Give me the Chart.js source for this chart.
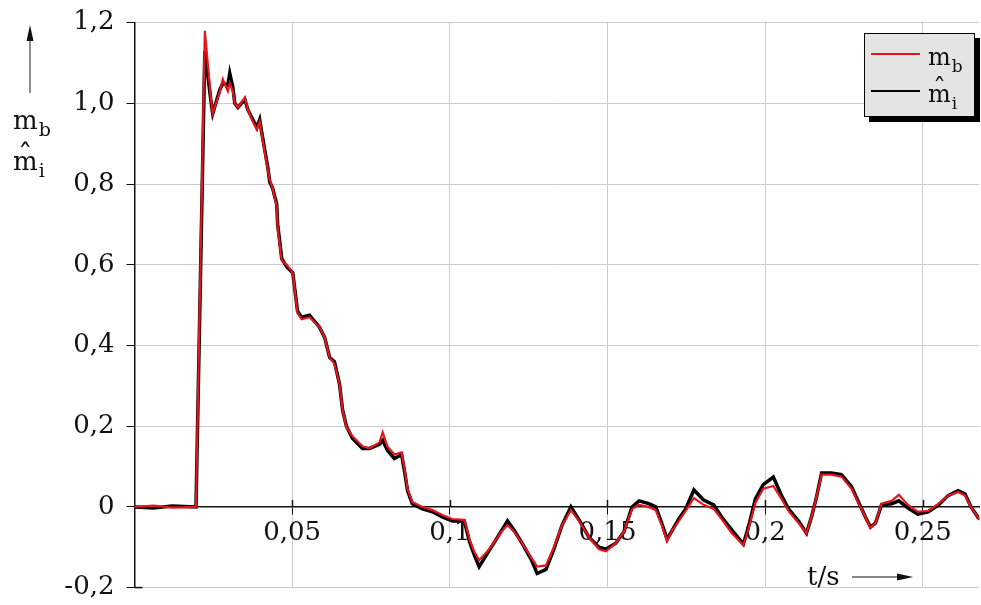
<!DOCTYPE html>
<html>
<head>
<meta charset="utf-8">
<script src="https://cdn.jsdelivr.net/npm/chart.js@4/dist/chart.umd.min.js"></script>
<style>
  html, body { margin: 0; padding: 0; background: #ffffff; }
  canvas { display: block; }
</style>
</head>
<body>
<canvas id="chart" width="981" height="605"></canvas>
<script>
// Time base in seconds
const time = [
  0, 0.006, 0.012, 0.0195, 0.0223, 0.0245, 0.0248, 0.0271, 0.028, 0.0296,
  0.0302, 0.0312, 0.0318, 0.0328, 0.035, 0.0359, 0.0372, 0.0388, 0.0397, 0.0403,
  0.0413, 0.0423, 0.0429, 0.0438, 0.0451, 0.0454, 0.0467, 0.0483, 0.0502, 0.0517,
  0.053, 0.0555, 0.0587, 0.0603, 0.0619, 0.0634, 0.065, 0.066, 0.0672, 0.0691,
  0.0723, 0.0745, 0.0777, 0.0787, 0.0802, 0.0824, 0.0847, 0.0856, 0.0866, 0.0881,
  0.0913, 0.0945, 0.0976, 0.1008, 0.1046, 0.1062, 0.1078, 0.1093, 0.1119, 0.1141,
  0.1163, 0.1183, 0.1204, 0.1229, 0.1258, 0.1277, 0.1305, 0.133, 0.1356, 0.1384,
  0.141, 0.1441, 0.1473, 0.1495, 0.1526, 0.1552, 0.1578, 0.16, 0.1631, 0.1653,
  0.1672, 0.1689, 0.1704, 0.1726, 0.1748, 0.1774, 0.1805, 0.1837, 0.1862, 0.1894,
  0.1931, 0.1947, 0.1969, 0.1994, 0.2026, 0.2052, 0.2074, 0.2106, 0.2131, 0.2147,
  0.2163, 0.2179, 0.221, 0.2242, 0.2274, 0.2296, 0.2318, 0.2334, 0.235, 0.2369,
  0.2401, 0.2424, 0.2453, 0.2484, 0.2517, 0.255, 0.258, 0.2612, 0.2634, 0.2653,
  0.2676, 0.27
];

// Measured torque m_b
const mb = [
  0, 0.003, -0.002, 0, 1.18, 0.99, 0.975, 1.03, 1.06, 1.03,
  1.05, 1.03, 1.0, 0.99, 1.015, 0.985, 0.96, 0.935, 0.955, 0.925,
  0.88, 0.835, 0.81, 0.79, 0.745, 0.69, 0.61, 0.60, 0.58, 0.48,
  0.465, 0.47, 0.445, 0.42, 0.37, 0.355, 0.305, 0.24, 0.198, 0.175,
  0.15, 0.145, 0.16, 0.185, 0.15, 0.13, 0.135, 0.095, 0.045, 0.012,
  0.0, -0.008, -0.02, -0.03, -0.032, -0.08, -0.112, -0.132, -0.11, -0.087,
  -0.062, -0.045, -0.062, -0.09, -0.125, -0.148, -0.145, -0.1, -0.045, -0.008,
  -0.035, -0.075, -0.105, -0.11, -0.09, -0.062, -0.005, 0.005, 0.0, -0.008,
  -0.045, -0.085, -0.06, -0.035, -0.01, 0.022, 0.005, -0.005, -0.03, -0.065,
  -0.095, -0.055, 0.01, 0.045, 0.052, 0.02, -0.01, -0.04, -0.065, -0.025,
  0.025, 0.08, 0.08, 0.075, 0.045, 0.01, -0.025, -0.052, -0.04, 0.008,
  0.015, 0.03, 0.005, -0.012, -0.01, 0.008, 0.028, 0.037, 0.028, 0.0,
  -0.027, -0.04
];

// Estimated torque m^_i
const mi = [
  0, -0.003, 0.002, 0, 1.13, 0.99, 0.975, 1.035, 1.05, 1.045,
  1.075, 1.04, 1.0, 0.99, 1.01, 0.985, 0.965, 0.94, 0.96, 0.93,
  0.885, 0.84, 0.805, 0.79, 0.75, 0.7, 0.615, 0.595, 0.58, 0.485,
  0.47, 0.475, 0.445, 0.42, 0.37, 0.36, 0.305, 0.24, 0.2, 0.17,
  0.145, 0.145, 0.155, 0.165, 0.14, 0.12, 0.13, 0.09, 0.04, 0.008,
  -0.005, -0.012, -0.025, -0.035, -0.035, -0.085, -0.12, -0.148, -0.115, -0.088,
  -0.06, -0.035, -0.058, -0.09, -0.13, -0.165, -0.155, -0.105, -0.045, 0.0,
  -0.032, -0.075, -0.1, -0.105, -0.09, -0.062, 0.0, 0.015, 0.008, 0.0,
  -0.04, -0.08, -0.06, -0.03, -0.005, 0.042, 0.017, 0.005, -0.025, -0.057,
  -0.092, -0.05, 0.02, 0.055, 0.074, 0.028, -0.005, -0.035, -0.065, -0.025,
  0.025, 0.084, 0.084, 0.08, 0.05, 0.012, -0.025, -0.05, -0.04, 0.005,
  0.008, 0.015, -0.003, -0.018, -0.012, 0.005, 0.028, 0.04, 0.032, 0.0,
  -0.027, -0.04
];

const xTicks = [0.05, 0.1, 0.15, 0.2, 0.25];
const yTicks = [-0.2, 0, 0.2, 0.4, 0.6, 0.8, 1.0, 1.2];

// Symbol parts: base letter, subscript, circumflex
const symbols = [
  { base: 'm', sub: 'b', hat: false },
  { base: 'm', sub: 'i', hat: true }
];

const SERIF = '"DejaVu Serif", "Liberation Serif", serif';
const INK = '#111111';

// Wanted plot frame in canvas pixels
const FRAME = { left: 134.5, top: 22.7, right: 981, bottom: 587.6 };

function fmtNum(v) {
  const r = Math.round(v * 100) / 100;
  if (r === 0) return '0';
  let s = String(r);
  if (Math.abs(r) >= 0.1 && Math.abs(r * 10 - Math.round(r * 10)) < 1e-9) s = r.toFixed(1);
  return s.replace('.', ',');
}

// Draws "m" with optional circumflex and a subscript
function drawSymbol(ctx, sym, x, baseline, size) {
  ctx.save();
  ctx.fillStyle = INK;
  ctx.textAlign = 'left';
  ctx.textBaseline = 'alphabetic';
  ctx.font = size + 'px ' + SERIF;
  ctx.fillText(sym.base, x, baseline);
  const w = ctx.measureText(sym.base).width;
  if (sym.hat) {
    ctx.textAlign = 'center';
    ctx.font = Math.round(size * 1.1) + 'px ' + SERIF;
    ctx.fillText('\u02C6', x + w / 2, baseline - size * 0.2);
    ctx.font = size + 'px ' + SERIF;
    ctx.textAlign = 'left';
  }
  ctx.font = Math.round(size * 0.72) + 'px ' + SERIF;
  ctx.fillText(sym.sub, x + w + 1, baseline + size * 0.28);
  ctx.restore();
}

function arrowHead(ctx, tipX, tipY, dx, dy, len, half) {
  const px = -dy, py = dx;
  ctx.beginPath();
  ctx.moveTo(tipX, tipY);
  ctx.lineTo(tipX - dx * len + px * half, tipY - dy * len + py * half);
  ctx.lineTo(tipX - dx * len - px * half, tipY - dy * len - py * half);
  ctx.closePath();
  ctx.fill();
}

const decorations = {
  id: 'decorations',
  afterDraw(chart) {
    const ctx = chart.ctx;
    const xs = chart.scales.x, ys = chart.scales.y;
    const y0 = ys.getPixelForValue(0);

    // upper halves of the x tick marks crossing the zero line
    ctx.save();
    ctx.strokeStyle = INK;
    ctx.lineWidth = 1.5;
    xTicks.forEach(v => {
      const px = Math.round(xs.getPixelForValue(v)) + 0.5;
      ctx.beginPath();
      ctx.moveTo(px, y0 - 7);
      ctx.lineTo(px, y0);
      ctx.stroke();
    });
    // small foot at the bottom of the y axis
    const yb = ys.getPixelForValue(-0.2);
    ctx.beginPath();
    ctx.moveTo(xs.left, yb);
    ctx.lineTo(xs.left + 8, yb);
    ctx.stroke();
    ctx.restore();

    // y axis title with arrow
    ctx.save();
    ctx.strokeStyle = '#444444';
    ctx.fillStyle = INK;
    ctx.lineWidth = 1.2;
    ctx.beginPath();
    ctx.moveTo(30, 93);
    ctx.lineTo(30, 38);
    ctx.stroke();
    arrowHead(ctx, 30, 25, 0, -1, 16, 3.5);
    ctx.restore();
    drawSymbol(ctx, symbols[0], 13, 129, 26);
    drawSymbol(ctx, symbols[1], 13, 170, 26);

    // x axis title with arrow
    ctx.save();
    ctx.fillStyle = INK;
    ctx.strokeStyle = INK;
    ctx.font = '26px ' + SERIF;
    ctx.textBaseline = 'alphabetic';
    ctx.fillText('t/s', 807, 585);
    ctx.lineWidth = 1.2;
    ctx.beginPath();
    ctx.moveTo(852, 577);
    ctx.lineTo(900, 577);
    ctx.stroke();
    arrowHead(ctx, 913, 577, 1, 0, 16, 3.5);
    ctx.restore();

    // legend box with drop shadow
    const bx = 864, by = 33, bw = 111, bh = 84;
    ctx.save();
    ctx.fillStyle = '#000000';
    ctx.fillRect(bx + 5, by + 5, bw, bh);
    ctx.fillStyle = '#e4e4e4';
    ctx.fillRect(bx, by, bw, bh);
    ctx.strokeStyle = '#000000';
    ctx.lineWidth = 1;
    ctx.strokeRect(bx + 0.5, by + 0.5, bw - 1, bh - 1);
    const rows = [54, 91];
    chart.data.datasets.forEach((ds, i) => {
      ctx.strokeStyle = ds.borderColor;
      ctx.lineWidth = 2;
      ctx.beginPath();
      ctx.moveTo(871, rows[i]);
      ctx.lineTo(920, rows[i]);
      ctx.stroke();
    });
    ctx.restore();
    drawSymbol(ctx, symbols[0], 928, 65, 24);
    drawSymbol(ctx, symbols[1], 928, 102, 24);
  }
};

const chart = new Chart(document.getElementById('chart'), {
  type: 'line',
  data: {
    datasets: [
      {
        label: 'mb',
        data: time.map((t, i) => ({ x: t, y: mb[i] })),
        borderColor: '#e8141b',
        borderWidth: 2.2,
        pointRadius: 0,
        tension: 0
      },
      {
        label: 'm\u0302i',
        data: time.map((t, i) => ({ x: t, y: mi[i] })),
        borderColor: '#000000',
        borderWidth: 3.5,
        pointRadius: 0,
        tension: 0
      }
    ]
  },
  options: {
    responsive: false,
    animation: false,
    devicePixelRatio: 1,
    layout: { padding: { top: 23, bottom: 17, left: 0, right: 0 } },
    plugins: {
      legend: { display: false },
      tooltip: { enabled: false }
    },
    scales: {
      x: {
        type: 'linear',
        position: { y: 0 },
        min: 0,
        max: 0.2679,
        afterFit(scale) { scale.height = 0; },
        afterBuildTicks(scale) { scale.ticks = xTicks.map(v => ({ value: v })); },
        grid: {
          color: '#cccccc',
          lineWidth: 1,
          tickColor: INK,
          tickLength: 7,
          drawOnChartArea: true
        },
        border: { display: true, color: INK, width: 1.5 },
        ticks: {
          autoSkip: false,
          maxRotation: 0,
          padding: 4,
          color: INK,
          font: { family: SERIF, size: 26 },
          callback: v => fmtNum(v)
        }
      },
      y: {
        type: 'linear',
        min: -0.2,
        max: 1.2,
        afterFit(scale) {
          scale.width = 134.5;
          scale.paddingTop = 0;
          scale.paddingBottom = 0;
        },
        afterBuildTicks(scale) { scale.ticks = yTicks.map(v => ({ value: v })); },
        grid: {
          color: ctx => (ctx.tick && ctx.tick.value === 0 ? 'rgba(0,0,0,0)' : '#cccccc'),
          lineWidth: 1,
          tickColor: INK,
          tickLength: 8
        },
        border: { display: true, color: INK, width: 1.5 },
        ticks: {
          padding: 12,
          color: INK,
          font: { family: SERIF, size: 26 },
          callback: v => fmtNum(v)
        }
      }
    }
  },
  plugins: [decorations]
});

// Settle the plot area onto the wanted frame
for (let pass = 0; pass < 3; pass++) {
  const ca = chart.chartArea;
  const pad = chart.options.layout.padding;
  const next = {
    left: 0,
    right: 0,
    top: pad.top + (FRAME.top - ca.top),
    bottom: pad.bottom + (ca.bottom - FRAME.bottom)
  };
  if (Math.abs(next.top - pad.top) < 0.2 && Math.abs(next.bottom - pad.bottom) < 0.2) break;
  chart.options.layout.padding = next;
  chart.update();
}
</script>
</body>
</html>
